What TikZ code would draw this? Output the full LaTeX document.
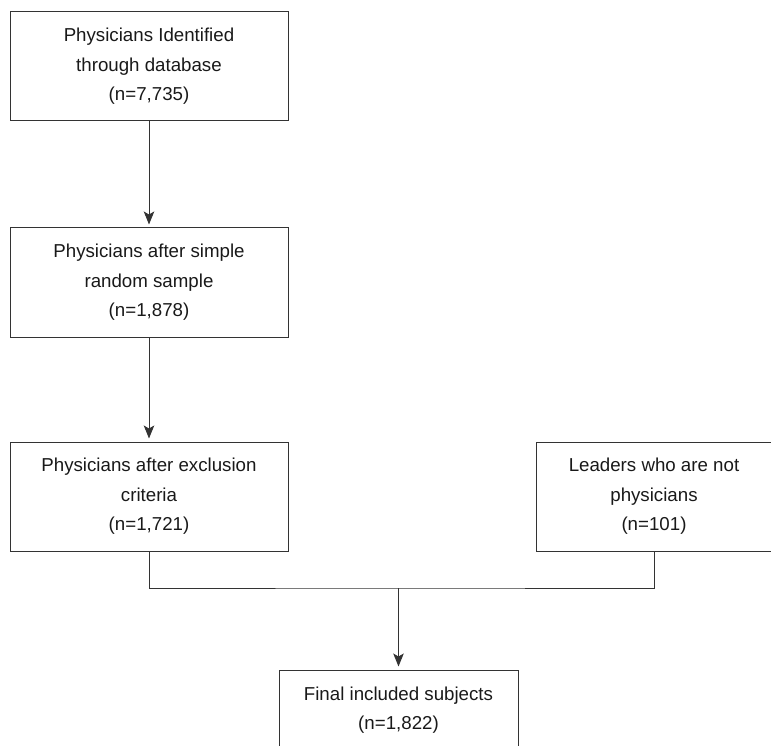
\documentclass[tikz,border=0pt]{standalone}
\usepackage{fontspec}
\setmainfont{Liberation Sans}
\usetikzlibrary{arrows.meta, positioning}

\begin{document}
\begin{tikzpicture}[x=1pt, y=-1pt, >={Stealth[length=13pt, width=10.5pt, inset=3pt]}, line width=1pt, draw=black!80,
  every node/.style={draw=black!80, rectangle, align=center, text=black!90, minimum width=278pt, minimum height=109pt, font=\fontsize{18.7}{29.5}\selectfont}]

  \clip (0,0) rectangle (771,746);

  % Nodes
  \node (ident) at (149,66.5) {Physicians Identified\\through database\\(n=7,735)};
  \node (sample) [below=106pt of ident] {Physicians after simple\\random sample\\(n=1,878)};
  \node (excl) [below=104pt of sample] {Physicians after exclusion\\criteria\\(n=1,721)};
  \node (leaders) [right=247pt of excl, minimum width=236pt] {Leaders who are not\\physicians\\(n=101)};
  \node (final) at (398.5,710) [minimum width=239pt, minimum height=80pt] {Final included subjects\\(n=1,822)};

  % Edges
  \draw[->, shorten >=3pt] (ident) -- (sample);
  \draw[->, shorten >=3pt] (sample) -- (excl);
  \path (final.north) ++(0,-81.5) coordinate (join);
  \draw (excl.south) |- (join) -| (leaders.south);
  \draw[->, shorten >=3pt] (join) -- (final.north);

\end{tikzpicture}
\end{document}
